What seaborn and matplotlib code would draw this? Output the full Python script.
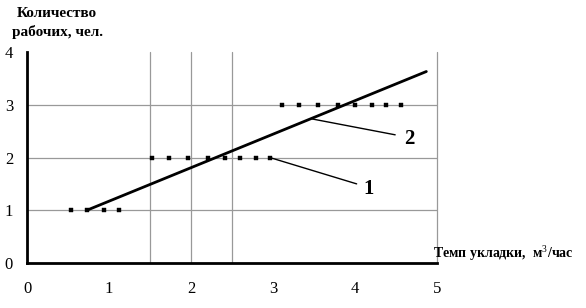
import matplotlib
matplotlib.use("Agg")
import matplotlib.pyplot as plt
import seaborn as sns
import pandas as pd

# data
dots_x = [0.54, 0.73, 0.94, 1.12,
          1.52, 1.73, 1.96, 2.21, 2.41, 2.60, 2.79, 2.96,
          3.11, 3.32, 3.55, 3.79, 4.00, 4.21, 4.38, 4.56]
dots_y = [1, 1, 1, 1,
          2, 2, 2, 2, 2, 2, 2, 2,
          3, 3, 3, 3, 3, 3, 3, 3]
line2_x = [0.73, 4.87]
line2_y = [1.00, 3.63]
x_ticks = [0, 0.5, 1, 1.5, 2, 2.5, 3, 3.5, 4, 4.5, 5]
x_tick_labels = ["0", "", "1", "", "2", "", "3", "", "4", "", "5"]
y_ticks = [0, 1, 2, 3, 4]
grid_v = [1.5, 2, 2.5, 5]
grid_h = [1, 2, 3]
ylabel_text = "Количество\nрабочих, чел."
xlabel_text = "Темп укладки,  м$^3$/час"

sns.set_theme(style="white")
plt.rcParams['font.family'] = ['Liberation Serif', 'DejaVu Serif']
plt.rcParams['text.color'] = 'black'
plt.rcParams['mathtext.fontset'] = 'custom'
plt.rcParams['mathtext.rm'] = 'Liberation Serif'
plt.rcParams['mathtext.bf'] = 'Liberation Serif:bold'

fig = plt.figure(figsize=(5.86, 3.08), dpi=100)
ax = fig.add_axes([27/586, 1 - 263/308, (437 - 27)/586, (263 - 52)/308])
ax.set_xlim(0, 5)
ax.set_ylim(0, 4)

for gx in grid_v:
    ax.plot([gx, gx], [0, 4], color="#999999", lw=0.9, zorder=1, clip_on=False)
for gy in grid_h:
    ax.plot([0, 5], [gy, gy], color="#999999", lw=0.9, zorder=1)

df_dots = pd.DataFrame({"x": dots_x, "y": dots_y})
sns.scatterplot(data=df_dots, x="x", y="y", ax=ax, marker="s", s=6,
                color="black", edgecolor="black", linewidth=0.3, zorder=3)
df_line = pd.DataFrame({"x": line2_x, "y": line2_y})
sns.lineplot(data=df_line, x="x", y="y", ax=ax, color="black", lw=2.0, zorder=4)

# leader lines and labels
ax.plot([2.96, 4.02], [2.0, 1.50], color="black", lw=1.0, zorder=3)
ax.text(4.10, 1.40, "1", fontsize=15, fontweight="bold", color="black",
        ha="left", va="center")
ax.plot([3.48, 4.49], [2.73, 2.43], color="black", lw=1.0, zorder=3)
ax.text(4.60, 2.36, "2", fontsize=15, fontweight="bold", color="black",
        ha="left", va="center")

ax.set_xticks(x_ticks)
ax.set_xticklabels(x_tick_labels)
ax.set_yticks(y_ticks)
ax.tick_params(axis="both", direction="out", length=5, width=1.5, color="black",
               labelsize=12, labelcolor="black", pad=5)
ax.tick_params(axis="x", pad=8)
ax.set_xlabel("")
ax.set_ylabel("")
for s in ["top", "right"]:
    ax.spines[s].set_visible(False)
ax.spines["left"].set_color("black")
ax.spines["left"].set_linewidth(2.0)
ax.spines["bottom"].set_color("black")
ax.spines["bottom"].set_linewidth(2.0)

fig.text(57/586, 1 - 23/308, ylabel_text, ha="center", va="center",
         fontsize=11, fontweight="bold", linespacing=1.5, color="black")
fig.text(433/586, 1 - 253/308, xlabel_text, ha="left", va="center",
         fontsize=10, fontweight="bold", color="black")

fig.savefig("out.png", dpi=100, facecolor="white")
